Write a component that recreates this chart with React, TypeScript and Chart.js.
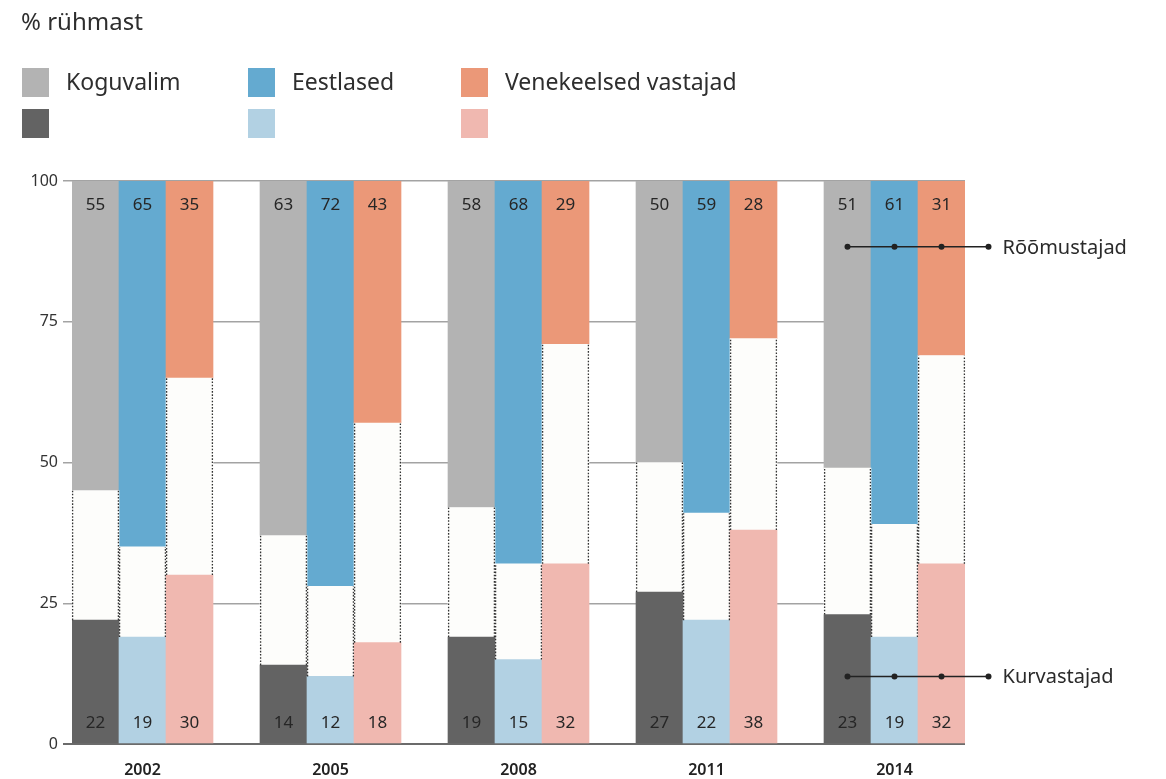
import React, { useEffect, useRef } from "react";
import { Chart, registerables } from "chart.js";

Chart.register(...registerables);

// ---- data ----
const years = ["2002", "2005", "2008", "2011", "2014"];
const groups = ["Koguvalim", "Eestlased", "Venekeelsed vastajad"];
// Kurvastajad (bottom segment)
const kurvKoguvalim = [22, 14, 19, 27, 23];
const kurvEestlased = [19, 12, 15, 22, 19];
const kurvVene = [30, 18, 32, 38, 32];
// Rõõmustajad (top segment)
const roomKoguvalim = [55, 63, 58, 50, 51];
const roomEestlased = [65, 72, 68, 59, 61];
const roomVene = [35, 43, 29, 28, 31];
const yTicks = [0, 25, 50, 75, 100];
const annotationLabels = ["Rõõmustajad", "Kurvastajad"];
const annotationLevels = [88.3, 12];

// ---- colours ----
const topColors = ["#b3b3b3", "#64aad0", "#eb9878"];
const bottomColors = ["#636363", "#b2d1e3", "#f0b8b0"];
const midColor = "#fdfdfb";

const FONT = "'Noto Sans', 'Open Sans', sans-serif";

function buildSlots() {
  const labels: string[] = [];
  const bottom: (number | null)[] = [];
  const top: (number | null)[] = [];
  const mid: (number | null)[] = [];
  const bColors: string[] = [];
  const tColors: string[] = [];
  const kurv = [kurvKoguvalim, kurvEestlased, kurvVene];
  const room = [roomKoguvalim, roomEestlased, roomVene];
  years.forEach((yr, i) => {
    for (let g = 0; g < groups.length; g++) {
      labels.push(g === 1 ? yr : "");
      const b = kurv[g][i];
      const t = room[g][i];
      bottom.push(b);
      top.push(t);
      mid.push(100 - b - t);
      bColors.push(bottomColors[g]);
      tColors.push(topColors[g]);
    }
    if (i < years.length - 1) {
      labels.push(" ");
      bottom.push(null);
      top.push(null);
      mid.push(null);
      bColors.push("rgba(0,0,0,0)");
      tColors.push("rgba(0,0,0,0)");
    }
  });
  return { labels, bottom, top, mid, bColors, tColors };
}

const valueLabelPlugin = {
  id: "valueLabels",
  afterDatasetsDraw(chart: any) {
    const ctx = chart.ctx;
    const yScale = chart.scales.y;
    ctx.save();
    // dotted side borders of middle segments
    const midMeta = chart.getDatasetMeta(1);
    ctx.strokeStyle = "#333";
    ctx.lineWidth = 1.3;
    ctx.setLineDash([1.6, 1.6]);
    midMeta.data.forEach((el: any, i: number) => {
      const v = chart.data.datasets[1].data[i];
      if (v == null) return;
      const p = el.getProps(["x", "y", "base", "width"], true);
      const l = p.x - p.width / 2 + 0.6;
      const r = p.x + p.width / 2 - 0.6;
      ctx.beginPath();
      ctx.moveTo(l, p.base);
      ctx.lineTo(l, p.y);
      ctx.moveTo(r, p.base);
      ctx.lineTo(r, p.y);
      ctx.stroke();
    });
    ctx.setLineDash([]);
    // labels
    ctx.font = `17px ${FONT}`;
    ctx.fillStyle = "#262626";
    ctx.textAlign = "center";
    ctx.textBaseline = "middle";
    [0, 2].forEach((di) => {
      const meta = chart.getDatasetMeta(di);
      meta.data.forEach((el: any, i: number) => {
        const v = chart.data.datasets[di].data[i];
        if (v == null) return;
        const y = di === 0 ? yScale.bottom - 21 : yScale.top + 24;
        ctx.fillText(String(v), el.x, y);
      });
    });
    ctx.restore();
  },
  afterDraw(chart: any) {
    const ctx = chart.ctx;
    const xScale = chart.scales.x;
    const yScale = chart.scales.y;
    const n = chart.data.labels.length;
    const xs = [n - 3, n - 2, n - 1].map((i) => xScale.getPixelForValue(i));
    const step = xs[1] - xs[0];
    xs.push(xs[2] + step);
    ctx.save();
    annotationLabels.forEach((txt, k) => {
      const y = yScale.getPixelForValue(annotationLevels[k]);
      ctx.strokeStyle = "#222";
      ctx.lineWidth = 1.5;
      ctx.beginPath();
      ctx.moveTo(xs[0], y);
      ctx.lineTo(xs[3], y);
      ctx.stroke();
      ctx.fillStyle = "#222";
      xs.forEach((x) => {
        ctx.beginPath();
        ctx.arc(x, y, 3, 0, Math.PI * 2);
        ctx.fill();
      });
      ctx.fillStyle = "#2a2a2a";
      ctx.font = `20px ${FONT}`;
      ctx.textAlign = "left";
      ctx.textBaseline = "middle";
      ctx.fillText(txt, xs[3] + 14, y + 1);
    });
    ctx.restore();
  },
};

export default function App() {
  const ref = useRef<HTMLCanvasElement | null>(null);
  useEffect(() => {
    if (!ref.current) return;
    const s = buildSlots();
    const chart = new Chart(ref.current, {
      type: "bar",
      data: {
        labels: s.labels,
        datasets: [
          { label: "Kurvastajad", data: s.bottom, backgroundColor: s.bColors, borderWidth: 0 },
          { label: "Vahepealsed", data: s.mid, backgroundColor: midColor, borderWidth: 0 },
          { label: "Rõõmustajad", data: s.top, backgroundColor: s.tColors, borderWidth: 0 },
        ],
      } as any,
      options: {
        animation: false,
        responsive: false,
        layout: { padding: { top: 181, right: 201, left: 0, bottom: 0 } },
        datasets: { bar: { barPercentage: 1, categoryPercentage: 1 } } as any,
        plugins: { legend: { display: false }, tooltip: { enabled: false } },
        scales: {
          x: {
            stacked: true,
            grid: { display: false },
            border: { display: false },
            ticks: {
              autoSkip: false,
              maxRotation: 0,
              minRotation: 0,
              padding: 10,
              color: "#222",
              font: { family: FONT, size: 16, weight: 600 as any, lineHeight: 1 },
            },
            afterFit: (sc: any) => {
              sc.height = 35;
            },
          },
          y: {
            stacked: true,
            min: 0,
            max: 100,
            afterBuildTicks: (sc: any) => {
              sc.ticks = yTicks.map((v) => ({ value: v }));
            },
            ticks: {
              padding: 5,
              color: "#333",
              font: { family: FONT, size: 16 },
            },
            grid: {
              color: (c: any) => (c.tick && c.tick.value === 0 ? "#6b6b6b" : "#a3a3a3"),
              lineWidth: (c: any) => (c.tick && c.tick.value === 0 ? 2 : 1.5),
              tickLength: 9,
              drawTicks: true,
            },
            border: { display: false },
            afterFit: (sc: any) => {
              sc.width = 72;
            },
          },
        },
      } as any,
      plugins: [valueLabelPlugin],
    });
    return () => chart.destroy();
  }, []);

  const legendCols = [22, 248, 461];
  const textStyle: React.CSSProperties = {
    position: "absolute",
    fontFamily: FONT,
    fontSize: 23,
    color: "#2e2e2e",
    lineHeight: "29px",
    whiteSpace: "nowrap",
  };
  return (
    <div
      style={{
        position: "absolute",
        left: 0,
        top: 0,
        width: 1166,
        height: 779,
        background: "#fff",
        overflow: "hidden",
      }}
    >
      <canvas ref={ref} width={1166} height={779} style={{ position: "absolute", left: 0, top: 0 }} />
      <div style={{ ...textStyle, left: 21, top: 6, fontSize: 24 }}>% rühmast</div>
      {groups.map((g, i) => (
        <React.Fragment key={g}>
          <div
            style={{
              position: "absolute",
              left: legendCols[i],
              top: 68,
              width: 27,
              height: 29,
              background: topColors[i],
            }}
          />
          <div
            style={{
              position: "absolute",
              left: legendCols[i],
              top: 109,
              width: 27,
              height: 29,
              background: bottomColors[i],
            }}
          />
          <div style={{ ...textStyle, left: legendCols[i] + 44, top: 67 }}>{g}</div>
        </React.Fragment>
      ))}
    </div>
  );
}
